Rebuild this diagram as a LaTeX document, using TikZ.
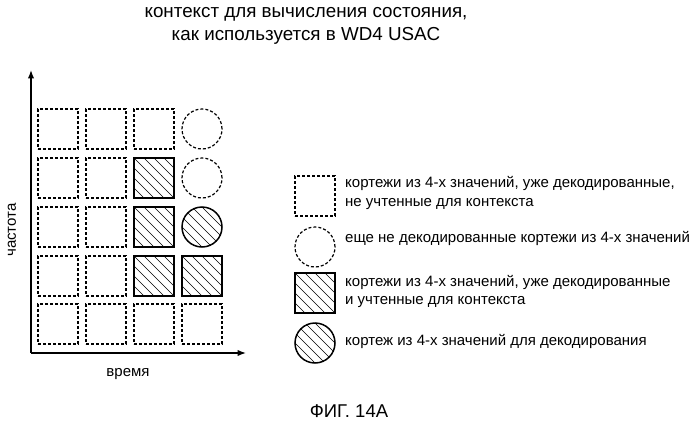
\documentclass[tikz,border=0pt]{standalone}
\usepackage{fontspec}
\setmainfont{Liberation Sans}
\usetikzlibrary{positioning, arrows.meta}

\begin{document}
\begin{tikzpicture}[
    x=1pt, y=-1pt,
    >=Latex,
    every node/.style={font=\fontsize{15}{18}\selectfont, inner sep=0pt},
    hatch/.style={path picture={
        \foreach \k in {-40,-35,...,40}
            \draw[line width=0.7pt] ([shift={(\k+30,-\k+30)}]path picture bounding box.center)
                -- ([shift={(\k-30,-\k-30)}]path picture bounding box.center);}},
    emptysq/.style={draw, dash pattern=on 3pt off 2pt, line width=1.2pt, minimum size=40pt},
    emptyci/.style={circle, draw, dash pattern=on 3pt off 2pt, line width=1.2pt, minimum size=40pt},
    usedsq/.style={draw, line width=1.5pt, minimum size=40pt, hatch},
    curci/.style={circle, draw, line width=1.5pt, minimum size=40pt, hatch},
]
\useasboundingbox (0,0) rectangle (699,431);

% Title
\node[font=\fontsize{18.8}{23}\selectfont, align=center] (title) at (306,26)
    {контекст для вычисления состояния,\\как используется в WD4 USAC};

% Axes
\coordinate (origin) at (31,353);
\coordinate (ytop) at (31,70);
\coordinate (xend) at (246,353);
\draw[line width=1.2pt, ->] (origin) -- (ytop);
\draw[line width=1.2pt, ->] (origin) -- (xend);
\node (time) at (128,374) {время};
\node[rotate=90] (freq) at (12,230) {частота};

% Grid of tuples (row by row, top to bottom)
\foreach \row/\y/\a/\b/\c/\d in {
    1/129/emptysq/emptysq/emptysq/emptyci,
    2/178/emptysq/emptysq/usedsq/emptyci,
    3/227/emptysq/emptysq/usedsq/curci,
    4/276/emptysq/emptysq/usedsq/usedsq,
    5/324/emptysq/emptysq/emptysq/emptysq} {
    \node[\a] (c\row-1) at (58,\y) {};
    \node[\b] (c\row-2) at (106,\y) {};
    \node[\c] (c\row-3) at (154,\y) {};
    \node[\d] (c\row-4) at (202,\y) {};
}

% Legend
\node[emptysq] (leg1) at (315,196) {};
\node[emptyci] (leg2) at (315,247) {};
\node[usedsq] (leg3) at (315,293) {};
\node[curci] (leg4) at (315,343) {};
\node[anchor=west, align=left] (txt1) at (345,193)
    {кортежи из 4-х значений, уже декодированные,\\[1pt]не учтенные для контекста};
\node[anchor=west] (txt2) at (345,238) {еще не декодированные кортежи из 4-х значений};
\node[anchor=west, align=left] (txt3) at (345,291)
    {кортежи из 4-х значений, уже декодированные\\[0pt]и учтенные для контекста};
\node[anchor=west] (txt4) at (345,341) {кортеж из 4-х значений для декодирования};

% Caption
\node[font=\fontsize{18.5}{22}\selectfont] (fig) at (349,411) {ФИГ. 14А};
\end{tikzpicture}
\end{document}
